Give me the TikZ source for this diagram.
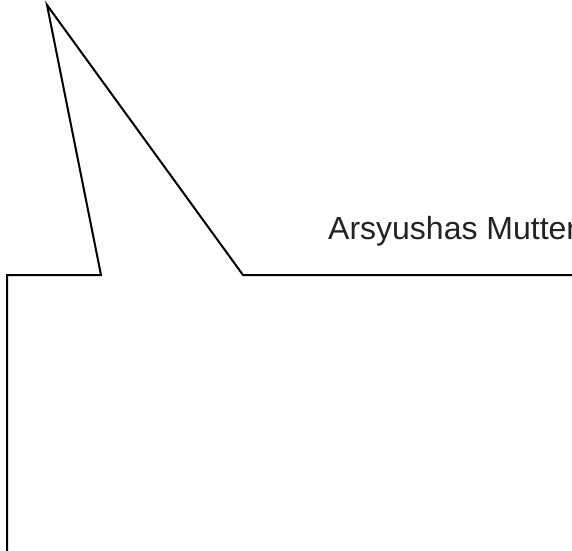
\documentclass[tikz,border=0pt]{standalone}
\usepackage{fontspec}
\setmainfont{Liberation Sans}
\usepackage{tikz}
\usetikzlibrary{positioning}
\definecolor{textgray}{HTML}{222222}

\begin{document}
\begin{tikzpicture}[x=1pt,y=-1pt,line join=miter]
\useasboundingbox (0,0) rectangle (572,550);
\coordinate (bottomleft) at (7,552);
\coordinate (cornerleft) at (7,275);
\coordinate (tailleft) at (101,275);
\coordinate (tailtip) at (47,5);
\coordinate (tailright) at (243,275);
\coordinate (cornerright) at (574,275);
\draw[line width=2pt] (bottomleft) -- (cornerleft) -- (tailleft) -- (tailtip) -- (tailright) -- (cornerright);
\node[anchor=base west, inner sep=0pt, text=textgray, font=\fontsize{32}{38}\selectfont] (speaker) at (328,239) {Arsyushas Mutter};
\end{tikzpicture}
\end{document}
